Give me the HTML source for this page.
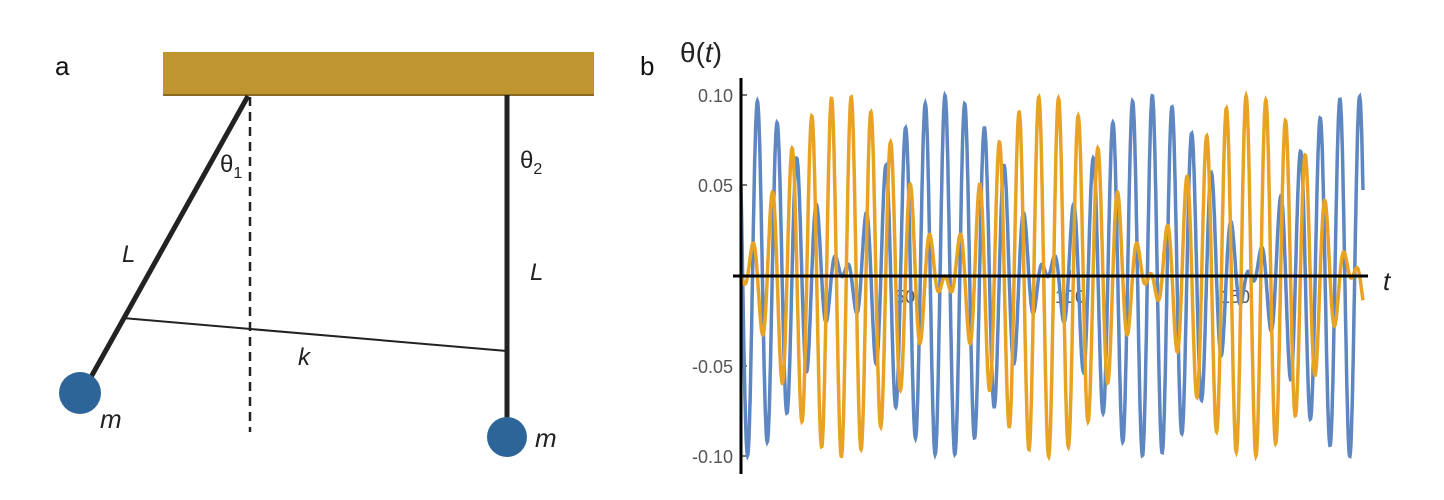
<!DOCTYPE html>
<html><head><meta charset="utf-8"><style>
html,body{margin:0;padding:0;background:#fff;}
svg{display:block;}
text{font-family:"Liberation Sans","DejaVu Sans",sans-serif;}
</style></head><body>
<svg id="s" width="1444" height="500" viewBox="0 0 1444 500" xmlns="http://www.w3.org/2000/svg">
<text x="55" y="75" font-size="26" fill="#111">a</text>
<text x="640" y="75" font-size="26" fill="#111">b</text>
<rect x="163" y="52" width="431" height="43" fill="#bf9530"/>
<line x1="163" y1="95" x2="594" y2="95" stroke="#8a6a1e" stroke-width="2"/>
<line x1="250" y1="97" x2="250" y2="432" stroke="#222" stroke-width="2.5" stroke-dasharray="9,6"/>
<line x1="248" y1="96" x2="86" y2="386" stroke="#222" stroke-width="5"/>
<line x1="507" y1="95" x2="507" y2="425" stroke="#222" stroke-width="5"/>
<line x1="122" y1="318" x2="507" y2="351" stroke="#222" stroke-width="2"/>
<circle cx="80" cy="393" r="21" fill="#2e6599"/>
<circle cx="507" cy="437" r="20" fill="#2e6599"/>
<text x="220" y="172" font-size="24" fill="#222">θ<tspan font-size="16" dy="6">1</tspan></text>
<text x="520" y="168" font-size="24" fill="#222">θ<tspan font-size="16" dy="6">2</tspan></text>
<text x="122" y="262" font-size="24" font-style="italic" fill="#222">L</text>
<text x="530" y="280" font-size="24" font-style="italic" fill="#222">L</text>
<text x="298" y="365" font-size="24" font-style="italic" fill="#222">k</text>
<text x="100" y="428" font-size="26" font-style="italic" fill="#222">m</text>
<text x="535" y="447" font-size="26" font-style="italic" fill="#222">m</text>
<text x="680" y="62" font-size="28" fill="#222">θ(<tspan font-style="italic">t</tspan>)</text>
<g font-size="18" fill="#555" text-anchor="end">
<text x="733" y="102">0.10</text>
<text x="733" y="192">0.05</text>
<text x="733" y="373">-0.05</text>
<text x="733" y="463">-0.10</text>
</g>
<g font-size="18" fill="#555" text-anchor="middle">
<text x="905" y="303">50</text>
<text x="1070" y="303">100</text>
<text x="1235" y="303">150</text>
</g>
<g stroke="#777" stroke-width="2">
<line x1="741" y1="95" x2="747" y2="95"/><line x1="741" y1="185" x2="747" y2="185"/>
<line x1="741" y1="366" x2="747" y2="366"/><line x1="741" y1="456" x2="747" y2="456"/>
<line x1="905" y1="270" x2="905" y2="276"/><line x1="1070" y1="270" x2="1070" y2="276"/><line x1="1235" y1="270" x2="1235" y2="276"/>
</g>
<path id="pb" fill="none" stroke="#5e86c1" stroke-width="3.5"/>
<path id="py" fill="none" stroke="#e8a325" stroke-width="3.5"/>
<line x1="741" y1="78" x2="741" y2="474" stroke="#000" stroke-width="3"/>
<line x1="733" y1="276" x2="1368" y2="276" stroke="#000" stroke-width="3"/>
<text x="1383" y="290" font-size="26" font-style="italic" fill="#222">t</text>
</svg>
<script>
(function(){
var x0=741,y0=276,sx=3.29,sy=1805,w=1.047,d=Math.PI/62,ph=-3.66;
var b="",y="";
for(var i=0;i<=1900;i++){var t=i*0.0995;
var v1=0.1*Math.cos(d*t)*Math.sin(w*t+ph);
var v2=0.1*Math.sin(d*t)*Math.cos(w*t+ph);
var X=(x0+t*sx).toFixed(1);
b+=(i?"L":"M")+X+" "+(y0-v1*sy).toFixed(1);
y+=(i?"L":"M")+X+" "+(y0-v2*sy).toFixed(1);}
document.getElementById("pb").setAttribute("d",b);
document.getElementById("py").setAttribute("d",y);
})();
</script>
</body></html>
